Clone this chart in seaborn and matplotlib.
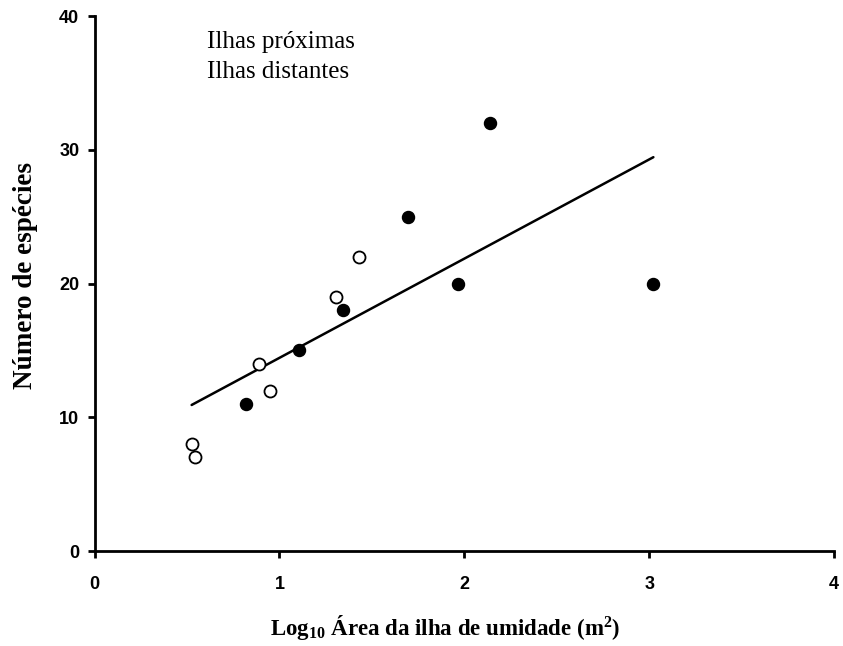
import seaborn as sns
import matplotlib.pyplot as plt
import pandas as pd

# dados
x_proximas = [0.525, 0.543, 0.888, 0.949, 1.308, 1.43]
y_proximas = [8, 7, 14, 12, 19, 22]
x_distantes = [0.819, 1.108, 1.346, 1.698, 1.968, 2.14, 3.023]
y_distantes = [11, 15, 18, 25, 20, 32, 20]

x_ticks = [0, 1, 2, 3, 4]
y_ticks = [0, 10, 20, 30, 40]

prox = pd.DataFrame({'x': x_proximas, 'y': y_proximas})
dist = pd.DataFrame({'x': x_distantes, 'y': y_distantes})
todos = pd.concat([prox, dist], ignore_index=True)

sns.set_style('ticks')
plt.rcParams['font.family'] = ['Liberation Serif', 'DejaVu Serif']
plt.rcParams['text.color'] = 'black'
plt.rcParams['axes.labelcolor'] = 'black'
plt.rcParams['xtick.color'] = 'black'
plt.rcParams['ytick.color'] = 'black'
plt.rcParams['mathtext.fontset'] = 'custom'
plt.rcParams['mathtext.bf'] = 'Liberation Serif:bold'
plt.rcParams['mathtext.rm'] = 'Liberation Serif:bold'
plt.rcParams['mathtext.default'] = 'bf'

fig = plt.figure(figsize=(8.43, 6.46), dpi=100)
ax = fig.add_axes([0.1122, 0.147, 0.8771, 0.828])

# reta de regressão com todos os pontos
sns.regplot(x='x', y='y', data=todos, scatter=False, ci=None, ax=ax,
            line_kws={'color': 'black', 'linewidth': 1.8})

# ilhas próximas (abertos) / ilhas distantes (cheios)
sns.scatterplot(x='x', y='y', data=prox, ax=ax, marker='o', s=75,
                facecolor='white', edgecolor='black', linewidth=1.3, zorder=3)
sns.scatterplot(x='x', y='y', data=dist, ax=ax, marker='o', s=75,
                color='black', edgecolor='black', linewidth=1.0, zorder=3)

ax.set_xlim(0, 4)
ax.set_ylim(0, 40)
ax.set_xticks(x_ticks)
ax.set_yticks(y_ticks)
ax.set_xticklabels([str(t) for t in x_ticks], family='Liberation Sans',
                   fontweight='bold', fontsize=13)
ax.set_yticklabels([str(t) for t in y_ticks], family='Liberation Sans',
                   fontweight='bold', fontsize=13)
ax.tick_params(direction='out', length=5, width=2)
ax.tick_params(axis='x', pad=13)
ax.tick_params(axis='y', pad=6)

for s in ['left', 'bottom']:
    ax.spines[s].set_linewidth(2)
    ax.spines[s].set_color('black')
sns.despine(ax=ax)

ax.set_xlabel('Log$_{10}$ Área da ilha de umidade (m$^{2}$)',
              fontsize=16.5, fontweight='bold')
ax.set_ylabel('Número de espécies', fontsize=19.5, fontweight='bold')
ax.xaxis.set_label_coords(0.474, -0.115)
ax.yaxis.set_label_coords(-0.077, 0.516)

ax.text(0.152, 0.951, 'Ilhas próximas', transform=ax.transAxes,
        fontsize=18, va='center')
ax.text(0.152, 0.895, 'Ilhas distantes', transform=ax.transAxes,
        fontsize=18, va='center')

plt.savefig('out.png', dpi=100)
